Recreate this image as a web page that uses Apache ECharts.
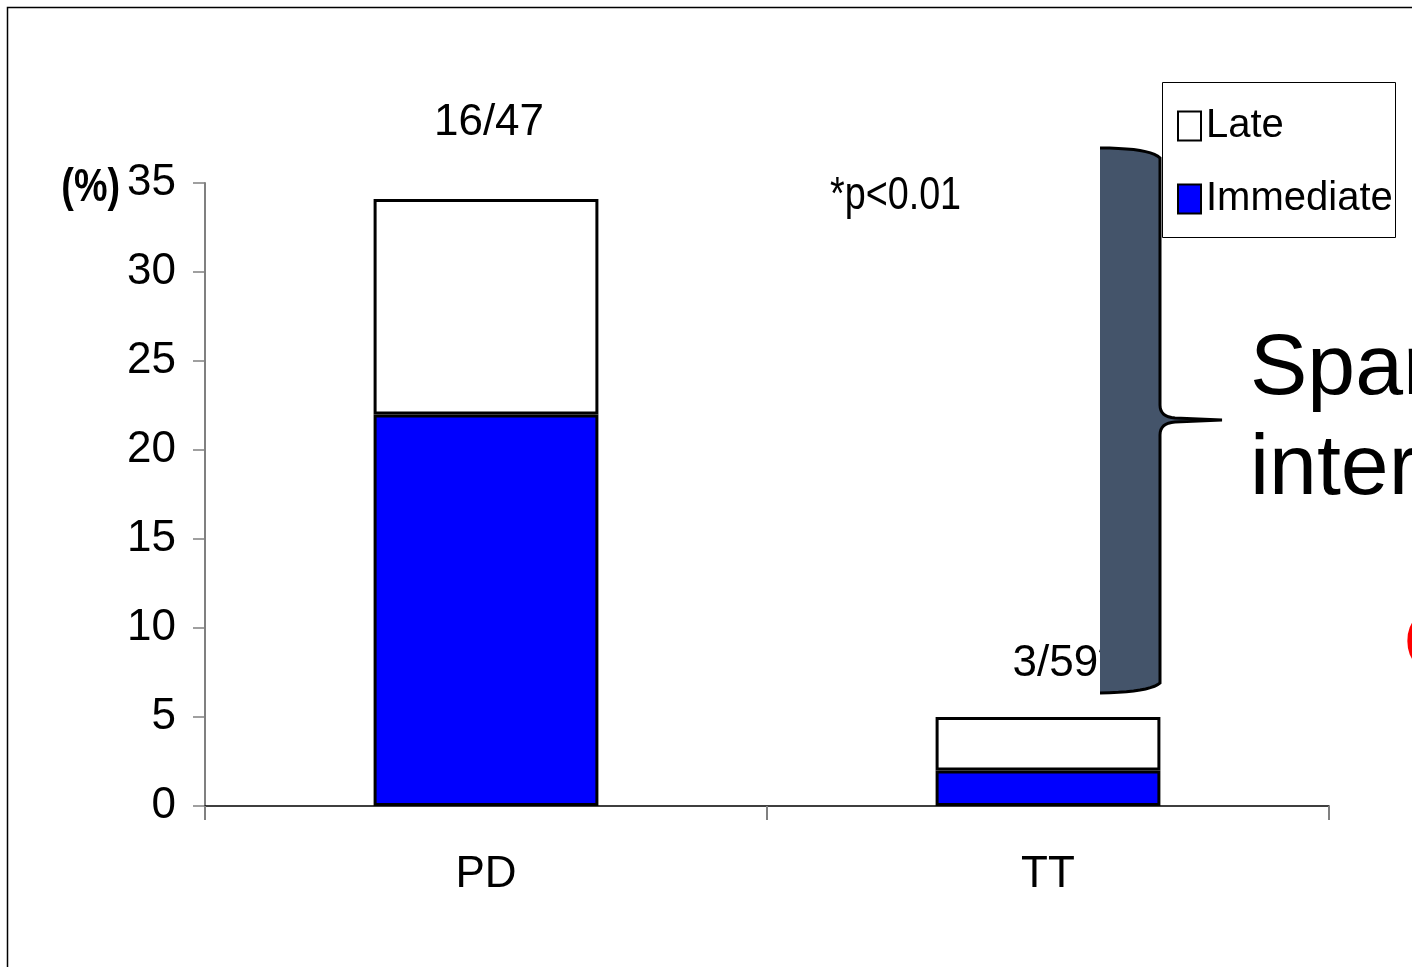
<!DOCTYPE html>
<html>
<head>
<meta charset="utf-8">
<script src="https://cdn.jsdelivr.net/npm/echarts@6/dist/echarts.min.js"></script>
<style>
html,body{margin:0;padding:0;background:#fff;}
#c{width:1412px;height:967px;}
</style>
</head>
<body>
<div id="c"></div>
<script>
var categories = ['PD', 'TT'];
var immediateValues = [22, 2];
var lateValues = [12.1, 3];
var barLabels = ['16/47', '3/59*'];
var yTicks = { min: 0, max: 35, interval: 5 };

var FONT = "'Liberation Sans', Arial, sans-serif";
var SX = 0.82; // horizontal condensing for narrow-looking free text

var labelCfg = [
  { distance: 54, offset: [3, 0] },
  { distance: 31, offset: [16, 0] }
];

// brace outline (decoration) built from quadratic segments
function quad(p0, p1, p2, n) {
  var out = [];
  for (var i = 1; i <= n; i++) {
    var t = i / n, u = 1 - t;
    out.push([u * u * p0[0] + 2 * u * t * p1[0] + t * t * p2[0], u * u * p0[1] + 2 * u * t * p1[1] + t * t * p2[1]]);
  }
  return out;
}
var brace = [[1100, 148]]
  .concat(quad([1100, 148], [1150, 148], [1160, 158], 10))
  .concat([[1160, 405]])
  .concat(quad([1160, 405], [1160, 417], [1175, 418], 8))
  .concat([[1222, 420], [1175, 422]])
  .concat(quad([1175, 422], [1160, 423], [1160, 435], 8))
  .concat([[1160, 683]])
  .concat(quad([1160, 683], [1150, 692], [1100, 693], 10));

var chart = echarts.init(document.getElementById('c'), null, { renderer: 'canvas' });

var option = {
  backgroundColor: '#fff',
  animation: false,
  grid: { left: 205, right: 83, top: 183, bottom: 161, containLabel: false },
  legend: {
    orient: 'vertical',
    left: 1162,
    top: 82,
    padding: [21, 5, 15, 15],
    itemGap: 27,
    itemWidth: 23,
    itemHeight: 29,
    icon: 'rect',
    data: ['Late', 'Immediate'],
    itemStyle: { borderColor: '#000', borderWidth: 2 },
    textStyle: { fontFamily: FONT, fontSize: 40, lineHeight: 46, color: '#000' },
    selectedMode: false
  },
  xAxis: {
    type: 'category',
    data: categories,
    boundaryGap: true,
    axisLine: { lineStyle: { color: '#000', width: 1.5 } },
    axisTick: { show: true, length: 14, lineStyle: { color: '#808080', width: 2 } },
    axisLabel: { fontFamily: FONT, fontSize: 44, color: '#000', margin: 47 },
    z: 10
  },
  yAxis: {
    type: 'value',
    min: yTicks.min,
    max: yTicks.max,
    interval: yTicks.interval,
    splitLine: { show: false },
    axisLine: { show: true, lineStyle: { color: '#808080', width: 2 } },
    axisTick: { show: true, length: 12, lineStyle: { color: '#808080', width: 1.5 } },
    axisLabel: { fontFamily: FONT, fontSize: 44, color: '#000', margin: 29 }
  },
  series: [
    {
      name: 'Immediate',
      type: 'bar',
      stack: 'total',
      barWidth: '40%',
      data: immediateValues,
      itemStyle: { color: '#0000FF', borderColor: '#000', borderWidth: 3 }
    },
    {
      name: 'Late',
      type: 'bar',
      stack: 'total',
      barWidth: '40%',
      data: lateValues.map(function (v, i) {
        return {
          value: v,
          label: {
            show: true,
            position: 'top',
            distance: labelCfg[i].distance,
            offset: labelCfg[i].offset,
            formatter: barLabels[i],
            fontFamily: FONT,
            fontSize: 44,
            color: '#000'
          }
        };
      }),
      itemStyle: { color: '#FFFFFF', borderColor: '#000', borderWidth: 3 }
    }
  ],
  graphic: [
    {
      type: 'rect',
      shape: { x: 7.5, y: 7.5, width: 1420, height: 980 },
      style: { fill: 'none', stroke: '#000', lineWidth: 1.5 },
      silent: true, z: 0
    },
    {
      type: 'rect',
      shape: { x: 1162.5, y: 82.5, width: 233, height: 155 },
      style: { fill: 'none', stroke: '#000', lineWidth: 1 },
      silent: true, z: 5
    },
    {
      type: 'text',
      x: 120, y: 188, scaleX: SX,
      style: { text: '(%)', fontFamily: FONT, fontWeight: 'bold', fontSize: 46, fill: '#000', align: 'right', verticalAlign: 'middle' },
      z: 5
    },
    {
      type: 'text',
      x: 830, y: 196, scaleX: SX,
      style: { text: '*p<0.01', fontFamily: FONT, fontSize: 46, fill: '#000', align: 'left', verticalAlign: 'middle' },
      z: 5
    },
    {
      type: 'polygon',
      shape: { points: brace },
      style: { fill: '#44546A', stroke: 'none' },
      z: 20
    },
    {
      type: 'polyline',
      shape: { points: brace },
      style: { fill: 'none', stroke: '#000', lineWidth: 3 },
      z: 21
    },
    {
      type: 'text',
      x: 1250, y: 370,
      style: { text: 'Spar', fontFamily: FONT, fontSize: 86, fill: '#000', align: 'left', verticalAlign: 'middle' },
      z: 5
    },
    {
      type: 'text',
      x: 1250, y: 470,
      style: { text: 'inter', fontFamily: FONT, fontSize: 86, fill: '#000', align: 'left', verticalAlign: 'middle' },
      z: 5
    },
    {
      type: 'text',
      x: 1404, y: 640,
      style: { text: '(', fontFamily: FONT, fontSize: 54, fill: '#FF0000', align: 'left', verticalAlign: 'middle' },
      z: 5
    }
  ]
};

chart.setOption(option);
</script>
</body>
</html>
